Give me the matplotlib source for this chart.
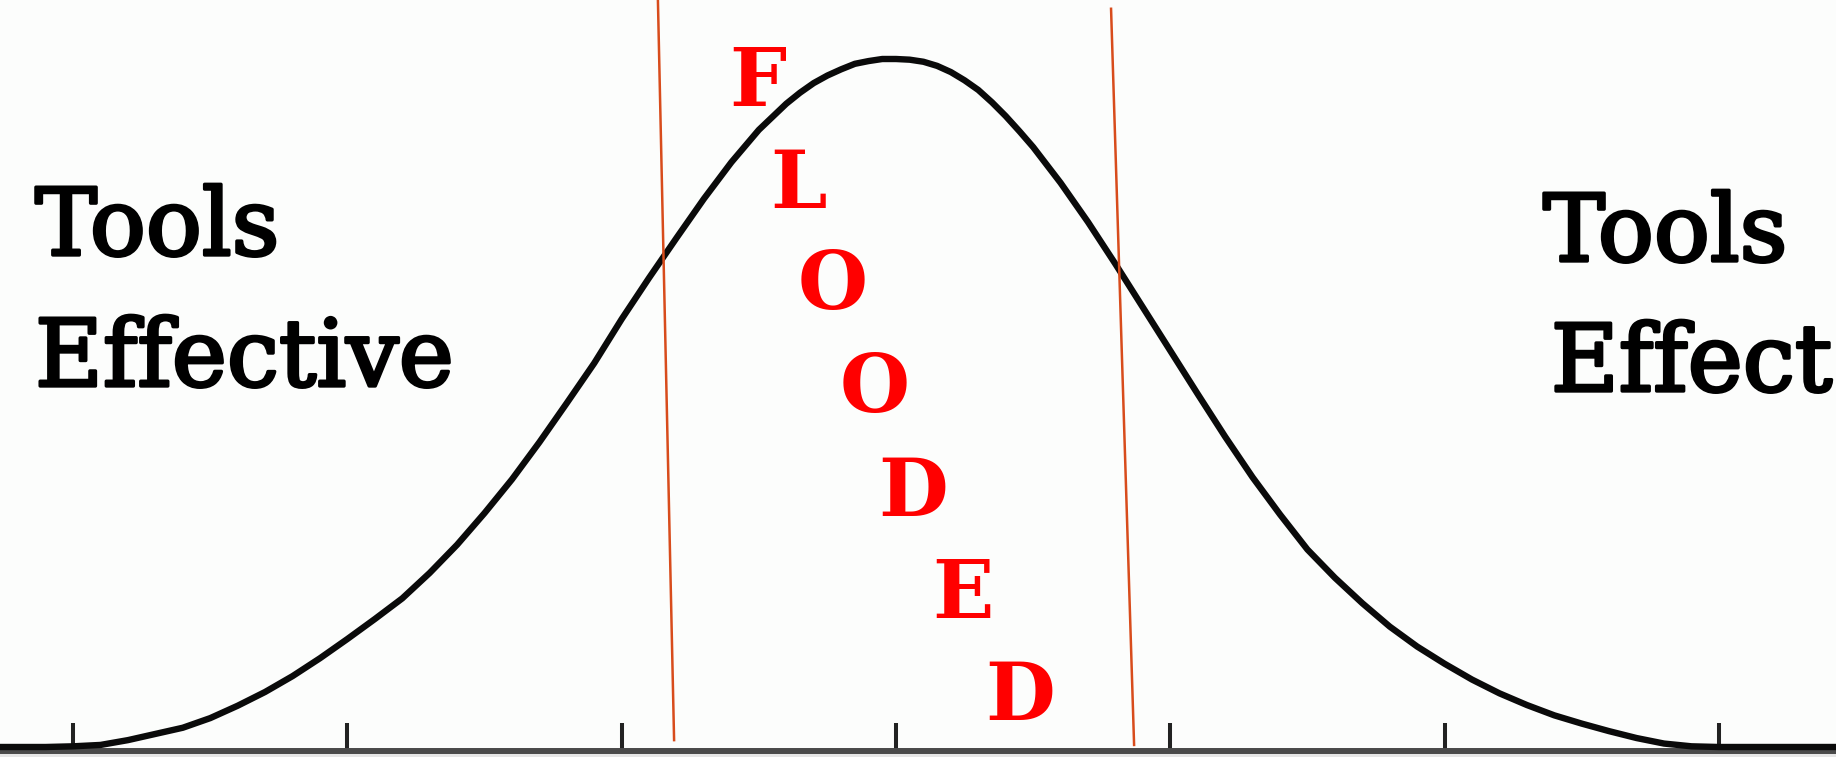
import matplotlib
matplotlib.use("Agg")
import matplotlib.pyplot as plt
import matplotlib.patheffects as pe

# bell curve: x in sigma units, height relative to the peak
x_sigma = [-3.3, -3.2, -3.1, -3.0, -2.9, -2.8, -2.7, -2.6, -2.5, -2.4, -2.3, -2.2,
           -2.1, -2.0, -1.9, -1.8, -1.7, -1.6, -1.5, -1.4, -1.3, -1.2, -1.1, -1.0,
           -0.9, -0.8, -0.7, -0.6, -0.5, -0.45, -0.4, -0.35, -0.3, -0.25, -0.2,
           -0.15, -0.1, -0.05, 0.0, 0.05, 0.1, 0.15, 0.2, 0.25, 0.3, 0.35, 0.4,
           0.45, 0.5, 0.6, 0.7, 0.8, 0.9, 1.0, 1.1, 1.2, 1.3, 1.4, 1.5, 1.6, 1.7,
           1.8, 1.9, 2.0, 2.1, 2.2, 2.3, 2.4, 2.5, 2.6, 2.7, 2.8, 2.9, 3.0, 3.5]
height = [0.000, 0.000, 0.000, 0.001, 0.003, 0.010, 0.019, 0.028, 0.042, 0.060,
          0.080, 0.103, 0.129, 0.157, 0.186, 0.216, 0.253, 0.294, 0.340, 0.389,
          0.443, 0.500, 0.558, 0.622, 0.682, 0.740, 0.797, 0.850, 0.897, 0.916,
          0.935, 0.951, 0.965, 0.976, 0.985, 0.993, 0.997, 1.000, 1.000, 0.999,
          0.996, 0.990, 0.981, 0.969, 0.955, 0.937, 0.917, 0.895, 0.872, 0.820,
          0.763, 0.702, 0.639, 0.576, 0.513, 0.451, 0.392, 0.338, 0.287, 0.246,
          0.209, 0.175, 0.146, 0.121, 0.098, 0.078, 0.061, 0.046, 0.034, 0.023,
          0.013, 0.005, 0.001, 0.000, 0.000]

# standard deviation ticks
tick_pos = [-3, -2, -1, 0, 1, 2, 3]

# the two slanted red cut lines (x in sigma, y in relative height)
left_cut_x = [-0.868, -0.809]
left_cut_y = [1.086, 0.010]
right_cut_x = [0.784, 0.868]
right_cut_y = [1.073, 0.003]

W, H = 1836, 757
fig = plt.figure(figsize=(W / 100, H / 100), dpi=100, facecolor="#fcfdfc")
ax = fig.add_axes([0, 0, 1, 1])
ax.set_facecolor("#fcfdfc")

# pixel mapping: mean at x=896, sigma=274.3 px, curve base at y=747, peak 688 px tall
mu_px, sig_px, base_px, peak_px = 896, 274.3, 747, 688
ax.set_xlim(-mu_px / sig_px, (W - mu_px) / sig_px)
ax.set_ylim((base_px - H) / peak_px, base_px / peak_px)

ax.axhspan((base_px - 757) / peak_px, (base_px - 754) / peak_px, color="#e6e6e6",
           lw=0, zorder=1)
ax.plot(x_sigma, height, color="#0a0a0a", lw=4.6, solid_joinstyle="round",
        solid_capstyle="butt", zorder=3)
ax.plot(left_cut_x, left_cut_y, color="#d84c1c", lw=1.8, zorder=4)
ax.plot(right_cut_x, right_cut_y, color="#d84c1c", lw=1.8, zorder=4)

for s in ["top", "left", "right"]:
    ax.spines[s].set_visible(False)
ax.spines["bottom"].set_position(("data", (base_px - 751) / peak_px))
ax.spines["bottom"].set_color("#4a4a4a")
ax.spines["bottom"].set_linewidth(4.3)
ax.spines["bottom"].set_zorder(2.5)
ax.set_xticks(tick_pos)
ax.tick_params(axis="x", direction="in", length=20, width=2.9, color="#222222",
               labelbottom=False)
ax.set_yticks([])


def px(x, y):
    return x / W, 1 - y / H


# side labels (regular serif thickened with a stroke)
heavy = [pe.withStroke(linewidth=2.4, foreground="black")]
serif = dict(family="DejaVu Serif", fontsize=67, color="black", va="baseline",
             path_effects=heavy)
fig.text(*px(35, 255), "Tools", ha="left", **serif)
fig.text(*px(35, 386), "Effective", ha="left", **serif)
fig.text(*px(1543, 261), "Tools", ha="left", **serif)
fig.text(*px(1832, 391), "Effect", ha="right", **serif)

# the falling red word
letters = list("FLOODED")
letter_x = [758, 799, 833, 875, 913, 963, 1020]
letter_base = [106, 208, 309, 412, 516, 618, 720]
for ch, lx, ly in zip(letters, letter_x, letter_base):
    fig.text(*px(lx, ly), ch, family="DejaVu Serif", fontweight="bold",
             fontsize=58, color="#ff0000", ha="center", va="baseline")

fig.savefig("out.png", dpi=100, facecolor=fig.get_facecolor())
